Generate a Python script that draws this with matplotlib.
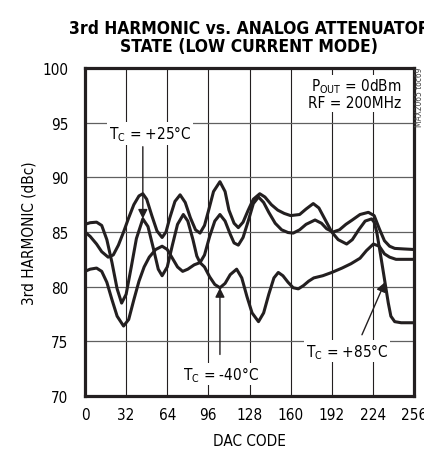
import matplotlib
matplotlib.use('Agg')
import matplotlib.pyplot as plt
import numpy as np

# fonts: condensed sans like the datasheet
plt.rcParams['font.family'] = ['DejaVu Sans']
plt.rcParams['font.stretch'] = 'condensed'
plt.rcParams['mathtext.fontset'] = 'custom'
plt.rcParams['mathtext.rm'] = 'DejaVu Sans:stretch=condensed'

# data (DAC code, 3rd harmonic dBc)
x_25 = [0, 4, 9, 13, 17, 21, 25, 28.5, 32, 36, 40, 45, 49, 53, 57, 60, 64, 68, 72, 76.5,
        80, 84, 87, 89.5, 93, 97, 101, 105, 109, 113, 116, 119.3, 123, 127, 131, 135,
        139, 143, 148, 153, 158, 162, 167, 172, 179, 184, 188, 193, 198, 203, 208, 214,
        220.5, 225, 229, 233, 237, 241, 248, 256]
y_25 = [85.7, 85.85, 85.9, 85.6, 84.3, 82.2, 79.8, 78.5, 79.3, 81.8, 84.4, 86.2, 85.5, 83.6,
        81.6, 81.0, 81.8, 83.8, 85.7, 86.6, 86.0, 84.3, 82.8, 82.2, 82.9, 84.6, 86.0, 86.6,
        86.0, 84.8, 84.0, 83.8, 84.5, 86.0, 87.6, 88.2, 87.7, 86.8, 85.8, 85.2, 84.95, 84.9,
        85.2, 85.7, 86.1, 85.8, 85.3, 85.0, 85.2, 85.7, 86.1, 86.6, 86.8, 86.5, 85.3, 84.2,
        83.7, 83.5, 83.45, 83.4]

x_85 = [0, 4, 9, 13, 18, 22, 26, 30, 34, 38, 42, 45, 48, 52, 56, 60, 63, 66, 70, 74, 78,
        82, 86, 89.5, 93, 96, 100, 105, 109, 112, 116, 119.3, 123, 127, 131, 136, 140, 145,
        150, 155, 160, 167, 172, 177.6, 182, 187, 192, 197, 203.6, 208, 213, 218, 223, 225,
        227, 230, 233, 236, 238, 241, 246, 256]
y_85 = [85.0, 84.6, 83.9, 83.2, 82.7, 82.9, 83.8, 85.0, 86.3, 87.5, 88.3, 88.5, 88.0, 86.5,
        85.1, 84.5, 85.0, 86.3, 87.8, 88.4, 87.7, 86.3, 85.2, 84.9, 85.6, 86.9, 88.7, 89.6,
        88.7, 87.0, 85.8, 85.4, 85.9, 87.0, 88.0, 88.5, 88.2, 87.5, 87.0, 86.7, 86.5, 86.6,
        87.1, 87.6, 87.2, 86.1, 85.0, 84.3, 83.9, 84.3, 85.2, 86.0, 86.2, 85.9, 85.0, 82.9,
        80.7, 78.5, 77.3, 76.8, 76.7, 76.7]

x_m40 = [0, 4, 9, 13, 17, 21, 25, 30, 34, 38, 42, 46, 50, 55, 60, 64, 68, 72, 76, 80, 85,
         89.5, 93, 97, 101, 105, 109, 113, 118, 122, 126, 130, 135, 139, 143, 147, 150.4,
         154, 158, 162, 166, 170, 174, 178, 185, 192, 200, 207, 214, 219, 224.4, 229, 233,
         237, 242, 256]
y_m40 = [81.4, 81.6, 81.7, 81.4, 80.4, 78.8, 77.3, 76.4, 77.0, 78.8, 80.5, 81.8, 82.7, 83.4,
         83.7, 83.4, 82.6, 81.8, 81.4, 81.6, 82.0, 82.2, 81.8, 80.9, 80.2, 79.9, 80.3, 81.1,
         81.6, 80.8, 79.1, 77.6, 76.8, 77.6, 79.3, 80.8, 81.3, 81.0, 80.4, 79.9, 79.8, 80.1,
         80.5, 80.8, 81.0, 81.3, 81.7, 82.1, 82.6, 83.3, 83.9, 83.7, 83.0, 82.7, 82.5, 82.5]

x_ticks = [0, 32, 64, 96, 128, 160, 192, 224, 256]
y_ticks = [70, 75, 80, 85, 90, 95, 100]

ink = '#231f20'

fig = plt.figure(figsize=(4.24, 4.56), dpi=100)
ax = fig.add_axes([85 / 424, 59 / 456, 329 / 424, 328 / 456])

for gx in x_ticks[1:-1]:
    ax.axvline(gx, color=ink, lw=0.8, zorder=1)
for gy in y_ticks[1:-1]:
    ax.axhline(gy, color='#606060', lw=0.9, zorder=1)

for xs, ys in [(x_25, y_25), (x_85, y_85), (x_m40, y_m40)]:
    ax.plot(xs, ys, color=ink, lw=2.2, solid_capstyle='round', solid_joinstyle='round', zorder=3)

ax.set_xlim(0, 256)
ax.set_ylim(70, 100)
ax.set_xticks(x_ticks)
ax.set_yticks(y_ticks)
ax.tick_params(length=0, labelsize=11, colors='black')
ax.tick_params(axis='y', pad=12)
ax.tick_params(axis='x', pad=8)
for s in ax.spines.values():
    s.set_linewidth(2.3)
    s.set_color(ink)

ax.set_xlabel('DAC CODE', fontsize=11, labelpad=8)
ax.set_ylabel('3rd HARMONIC (dBc)', fontsize=11, labelpad=4)
ax.set_title('3rd HARMONIC vs. ANALOG ATTENUATOR\nSTATE (LOW CURRENT MODE)',
             fontsize=12.5, fontweight='bold', linespacing=1.05, pad=12)

box = dict(facecolor='white', edgecolor='none', pad=1)
arrow = dict(arrowstyle='-|>', color=ink, lw=1.0, mutation_scale=14, shrinkA=0, shrinkB=0)

ax.annotate('', xy=(45, np.interp(45, x_25, y_25)), xytext=(45, 92.8), arrowprops=arrow, zorder=4)
ax.text(50.6, 94.0, r'T$_{\mathrm{C}}$ = +25°C', fontsize=11, ha='center', va='center',
        bbox=box, zorder=5)

ax.annotate('', xy=(105, np.interp(105, x_m40, y_m40)), xytext=(105, 73.8), arrowprops=arrow, zorder=4)
ax.text(105.8, 72.0, r'T$_{\mathrm{C}}$ = -40°C', fontsize=11, ha='center', va='center',
        bbox=box, zorder=5)

ax.annotate('', xy=(233.4, np.interp(233.4, x_85, y_85)), xytext=(215.5, 75.6), arrowprops=arrow, zorder=4)
ax.text(203.8, 74.1, r'T$_{\mathrm{C}}$ = +85°C', fontsize=11, ha='center', va='center',
        bbox=box, zorder=5)

ax.text(246, 98.4, r'P$_{\mathrm{OUT}}$ = 0dBm', fontsize=11, ha='right', va='center',
        bbox=box, zorder=5)
ax.text(246, 96.8, 'RF = 200MHz', fontsize=11, ha='right', va='center', bbox=box, zorder=5)

fig.text(419 / 424, 1 - 97 / 456, 'MAX2065 toc69', rotation=90, fontsize=6,
         ha='center', va='center', color='#444444')

fig.savefig('out.png', dpi=100)
